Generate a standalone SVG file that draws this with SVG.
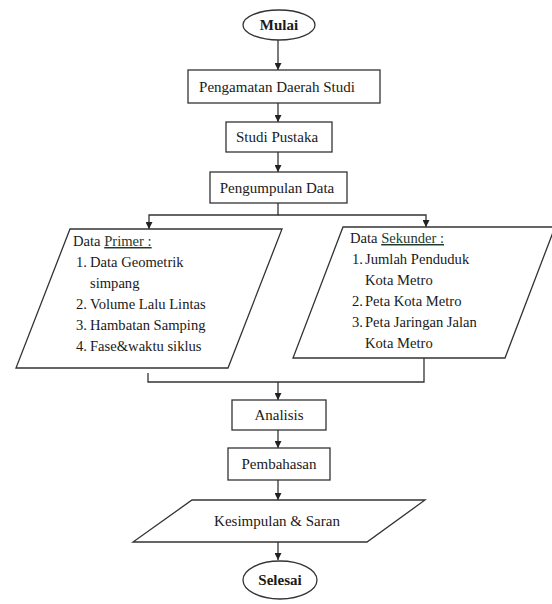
<svg xmlns="http://www.w3.org/2000/svg" width="552" height="604" viewBox="0 0 552 604">
<defs>
<marker id="arr" viewBox="0 0 10 10" refX="10" refY="5" markerWidth="7" markerHeight="7" orient="auto" markerUnits="userSpaceOnUse">
<path d="M0,0 L10,5 L0,10 z" fill="#222"/>
</marker>
<style>
.s{fill:#fff;stroke:#333;stroke-width:1.3}
.c{fill:none;stroke:#333;stroke-width:1.3}
.t{font-family:"Liberation Serif","Times New Roman",serif;font-size:15px;fill:#1a1a1a}
.l{font-size:14.6px}
.m{text-anchor:middle}
.b{font-weight:bold}
.u{text-decoration:underline;fill:#1e3a2c}
</style>
</defs>
<rect width="552" height="604" fill="#fff"/>
<g id="connectors">
<line class="c" x1="278" y1="40" x2="278" y2="70" marker-end="url(#arr)"/>
<line class="c" x1="278" y1="103" x2="278" y2="122" marker-end="url(#arr)"/>
<line class="c" x1="278" y1="152" x2="278" y2="172" marker-end="url(#arr)"/>
<polyline class="c" points="278,203 278,215 149,215 149,229" marker-end="url(#arr)"/>
<polyline class="c" points="278,215 426,215 426,227" marker-end="url(#arr)"/>
<polyline class="c" points="148,373 148,382 424,382 424,358"/>
<line class="c" x1="278" y1="382" x2="278" y2="400" marker-end="url(#arr)"/>
<line class="c" x1="278" y1="430" x2="278" y2="448" marker-end="url(#arr)"/>
<line class="c" x1="278" y1="480" x2="278" y2="500" marker-end="url(#arr)"/>
<line class="c" x1="278" y1="542" x2="278" y2="560" marker-end="url(#arr)"/>
</g>
<g id="mulai">
<ellipse class="s" cx="279" cy="25" rx="36" ry="15"/>
<text class="t m b" x="279" y="30">Mulai</text>
</g>
<g id="pengamatan">
<rect class="s" x="188" y="70" width="192" height="33"/>
<text class="t m" x="277" y="92">Pengamatan Daerah Studi</text>
</g>
<g id="studi-pustaka">
<rect class="s" x="226" y="122" width="106" height="30"/>
<text class="t m" x="277" y="142">Studi Pustaka</text>
</g>
<g id="pengumpulan">
<rect class="s" x="210" y="172" width="137" height="31"/>
<text class="t m" x="277" y="193">Pengumpulan Data</text>
</g>
<g id="data-primer">
<polygon class="s" points="70,229 282,229 228,368 16,368"/>
<text class="t l" x="73" y="246">Data <tspan class="u">Primer :</tspan></text>
<text class="t l" x="76" y="267">1.<tspan x="90">Data Geometrik</tspan></text>
<text class="t l" x="90" y="288">simpang</text>
<text class="t l" x="76" y="309">2.<tspan x="90">Volume Lalu  Lintas</tspan></text>
<text class="t l" x="76" y="330">3.<tspan x="90">Hambatan Samping</tspan></text>
<text class="t l" x="76" y="351">4.<tspan x="90">Fase&amp;waktu siklus</tspan></text>
</g>
<g id="data-sekunder">
<polygon class="s" points="343,227 555,227 505,358 293,358"/>
<text class="t l" x="350" y="243">Data <tspan class="u">Sekunder :</tspan></text>
<text class="t l" x="352" y="264">1.<tspan x="365">Jumlah Penduduk</tspan></text>
<text class="t l" x="365" y="285">Kota Metro</text>
<text class="t l" x="352" y="306">2.<tspan x="365">Peta Kota Metro</tspan></text>
<text class="t l" x="352" y="327">3.<tspan x="365">Peta Jaringan Jalan</tspan></text>
<text class="t l" x="365" y="348">Kota Metro</text>
</g>
<g id="analisis">
<rect class="s" x="232" y="400" width="94" height="30"/>
<text class="t m" x="279" y="420">Analisis</text>
</g>
<g id="pembahasan">
<rect class="s" x="228" y="448" width="102" height="32"/>
<text class="t m" x="279" y="469">Pembahasan</text>
</g>
<g id="kesimpulan">
<polygon class="s" points="192,500 425,500 367,542 133,542"/>
<text class="t m" x="277" y="526">Kesimpulan &amp; Saran</text>
</g>
<g id="selesai">
<ellipse class="s" cx="280" cy="580" rx="37" ry="19"/>
<text class="t m b" x="280" y="585">Selesai</text>
</g>
</svg>
